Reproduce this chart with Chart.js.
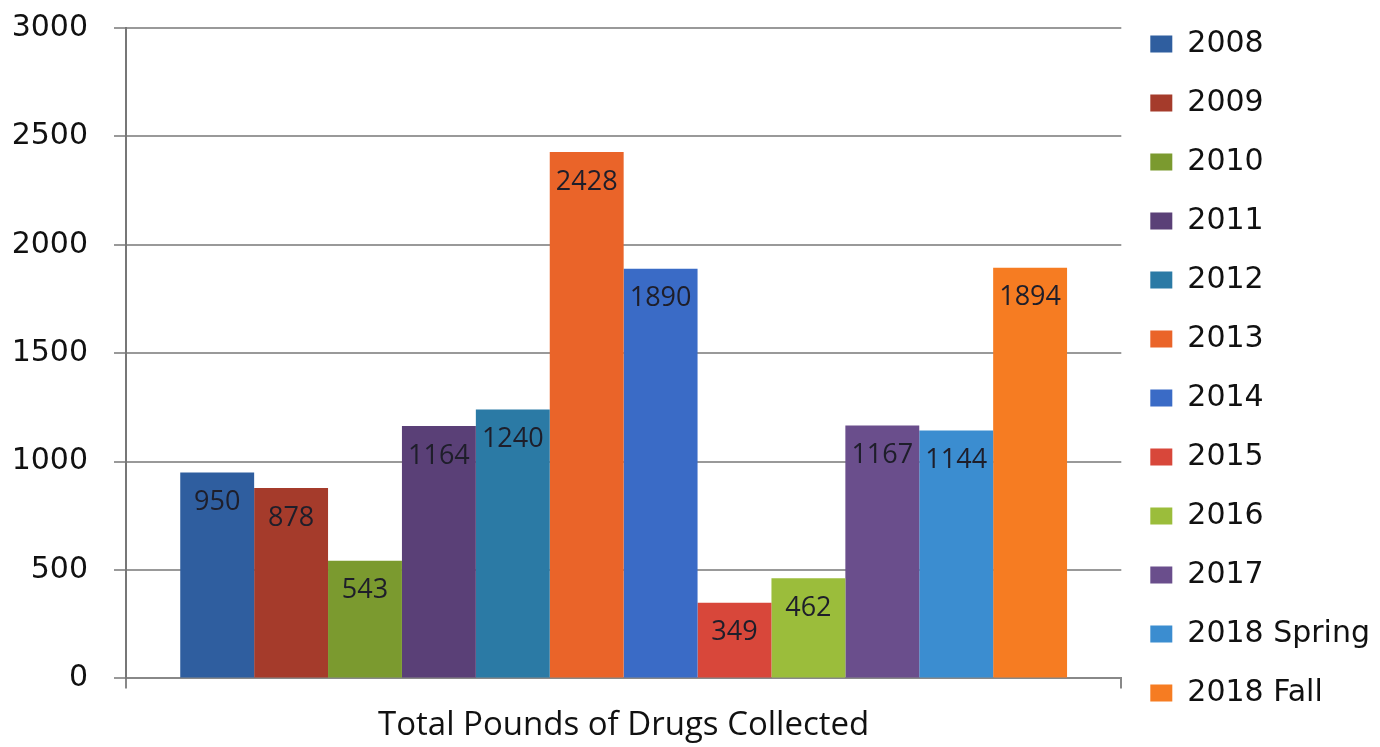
<!DOCTYPE html>
<html>
<head>
    <meta charset="utf-8">
    <title>Total Pounds of Drugs Collected</title>
    <script src="https://cdn.jsdelivr.net/npm/chart.js@4.4.1/dist/chart.umd.min.js"></script>
    <style>
        body { margin: 0; background: #fff; }
    </style>
</head>
<body>

<canvas id="myChart" width="1380" height="747"></canvas>

<script>
    // data
    let category = ["Total Pounds of Drugs Collected"];
    let seriesNames = ["2008", "2009", "2010", "2011", "2012", "2013", "2014", "2015", "2016", "2017", "2018 Spring", "2018 Fall"];
    let pounds = [950, 878, 543, 1164, 1240, 2428, 1890, 349, 462, 1167, 1144, 1894];
    let barColors = ["#2f5e9f", "#a53b2b", "#7b9a2f", "#5a4077", "#2b7aa5", "#ea6429", "#3a6bc6", "#d8473a", "#9bbd3b", "#6a4e8c", "#3b8dd0", "#f67c22"];

    let datasets = seriesNames.map((name, i) => ({
        label: name,
        data: [pounds[i]],
        backgroundColor: barColors[i],
        borderWidth: 0,
        categoryPercentage: 0.891,
        barPercentage: 1.0
    }));

    // value labels inside the top of each bar
    const valueLabels = {
        id: 'valueLabels',
        afterDatasetsDraw(chart) {
            const ctx = chart.ctx;
            ctx.save();
            ctx.font = '27px "Open Sans"';
            ctx.fillStyle = '#1e1e2a';
            ctx.textAlign = 'center';
            ctx.textBaseline = 'middle';
            chart.data.datasets.forEach((ds, i) => {
                const meta = chart.getDatasetMeta(i);
                if (meta.hidden) return;
                const bar = meta.data[0];
                ctx.fillText(ds.data[0], bar.x, bar.y + 30);
            });
            ctx.restore();
        }
    };

    var ctx = document.getElementById('myChart').getContext('2d');
    var myChart = new Chart(ctx, {
        type: 'bar',
        data: {
            labels: category,
            datasets: datasets
        },
        options: {
            responsive: false,
            animation: false,
            devicePixelRatio: 1,
            layout: { padding: { left: 12, top: 0, right: 0, bottom: 0 } },
            plugins: {
                legend: {
                    position: 'right',
                    align: 'start',
                    labels: {
                        font: { family: "'DejaVu Sans'", size: 30 },
                        color: '#111',
                        boxWidth: 22,
                        boxHeight: 17,
                        padding: 29
                    }
                },
                tooltip: { enabled: false }
            },
            scales: {
                x: {
                    grid: {
                        drawOnChartArea: false,
                        drawTicks: true,
                        tickLength: 10,
                        color: '#888',
                        lineWidth: 2
                    },
                    border: { color: '#888', width: 2 },
                    ticks: { display: false },
                    title: {
                        display: true,
                        text: category[0],
                        font: { family: "'Open Sans'", size: 33 },
                        color: '#111',
                        padding: { top: 17, bottom: 2 }
                    }
                },
                y: {
                    min: 0,
                    max: 3000,
                    ticks: {
                        stepSize: 500,
                        callback: v => String(v),
                        font: { family: "'DejaVu Sans'", size: 30 },
                        color: '#111',
                        padding: 26
                    },
                    grid: {
                        color: '#999',
                        lineWidth: 2,
                        tickLength: 12
                    },
                    border: { color: '#777', width: 2 },
                    afterFit(scale) {
                        scale.width = 114;
                        scale.paddingTop = 28;
                    }
                }
            }
        },
        plugins: [valueLabels]
    });
</script>

</body>
</html>
